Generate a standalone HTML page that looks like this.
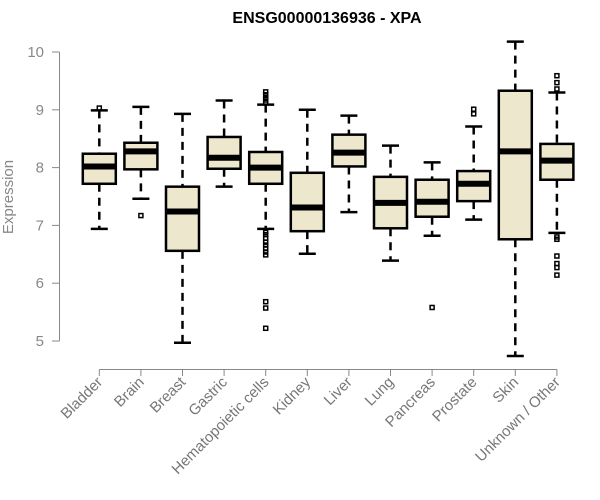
<!DOCTYPE html>
<html><head><meta charset="utf-8"><style>
body{margin:0;background:#fff;}
svg{display:block;font-family:"Liberation Sans",Arial,sans-serif;}
</style></head><body>
<svg id="chart" width="600" height="500" viewBox="0 0 600 500">
<text x="327" y="23" text-anchor="middle" font-weight="bold" font-size="16">ENSG00000136936 - XPA</text>
<text transform="translate(13,197) rotate(-90)" text-anchor="middle" font-size="15" fill="#888">Expression</text>
<g id="axes"></g><g id="boxes"></g>
</svg>
<script>
const categories=["Bladder","Brain","Breast","Gastric","Hematopoietic cells","Kidney","Liver","Lung","Pancreas","Prostate","Skin","Unknown / Other"];
const whiskerLow=[6.94,7.46,4.97,7.67,6.94,6.51,7.23,6.39,6.82,7.10,4.74,6.87];
const q1=[7.72,7.97,6.56,7.98,7.72,6.90,8.02,6.95,7.15,7.42,6.76,7.79];
const medians=[8.02,8.28,7.24,8.17,8.00,7.31,8.26,7.39,7.41,7.72,8.28,8.12];
const q3=[8.24,8.43,7.67,8.53,8.27,7.91,8.57,7.84,7.79,7.94,9.33,8.41];
const whiskerHigh=[8.99,9.05,8.93,9.16,9.09,9.00,8.90,8.38,8.09,8.71,10.18,9.30];
const outliers=[[9.03],[7.17],[],[],[9.31,9.26,9.21,9.17,9.13,6.88,6.84,6.78,6.71,6.66,6.60,6.54,6.49,5.68,5.57,5.22],[],[],[],[5.58],[9.01,8.93],[],[9.59,9.47,9.36,6.80,6.76,6.47,6.34,6.27,6.14]];
const yTicks=[5,6,7,8,9,10];
const NS="http://www.w3.org/2000/svg";
function y(v){return 341-(v-5)*57.8;}
function x(i){return 99.3+i*41.6;}
function mk(parent,tag,attrs){const e=document.createElementNS(NS,tag);for(const k in attrs)e.setAttribute(k,attrs[k]);parent.appendChild(e);return e;}
const axes=document.getElementById('axes'),boxes=document.getElementById('boxes');
let el=mk(axes,'line',{x1:59.5,x2:59.5,y1:y(10),y2:y(5),stroke:'#888'});


yTicks.forEach(t=>{
  let l=mk(axes,'line',{x1:52,x2:59.5,y1:y(t),y2:y(t),stroke:'#888'});
  
  
  let tx=mk(axes,'text',{x:44,y:y(t)+5,'text-anchor':'end','font-size':15,fill:'#888'});
  tx.textContent=t;
  
  
});
el=mk(axes,'line',{x1:x(0),x2:x(11),y1:369.5,y2:369.5,stroke:'#888'});


categories.forEach((c,i)=>{
  const cx=x(i);
  let l=mk(axes,'line',{x1:cx,x2:cx,y1:369.5,y2:376,stroke:'#888'});
  
  
  let tx=mk(axes,'text',{transform:`translate(${cx+4},${383}) rotate(-45)`,'text-anchor':'end','font-size':15,fill:'#777'});
  tx.textContent=c;
  
  
  const g=mk(boxes,'g',{});
  
  
  mk(g,'line',{x1:cx,x2:cx,y1:y(whiskerHigh[i]),y2:y(q3[i]),stroke:'#000','stroke-width':2.5,'stroke-dasharray':'8,6'});
  mk(g,'line',{x1:cx,x2:cx,y1:y(q1[i]),y2:y(whiskerLow[i]),stroke:'#000','stroke-width':2.5,'stroke-dasharray':'8,6'});
  mk(g,'line',{x1:cx-8.5,x2:cx+8.5,y1:y(whiskerHigh[i]),y2:y(whiskerHigh[i]),stroke:'#000','stroke-width':2.5});
  mk(g,'line',{x1:cx-8.5,x2:cx+8.5,y1:y(whiskerLow[i]),y2:y(whiskerLow[i]),stroke:'#000','stroke-width':2.5});
  mk(g,'rect',{x:cx-16.5,y:y(q3[i]),width:33,height:y(q1[i])-y(q3[i]),fill:'#EDE8CD',stroke:'#000','stroke-width':2.5});
  mk(g,'line',{x1:cx-16.5,x2:cx+16.5,y1:y(medians[i]),y2:y(medians[i]),stroke:'#000','stroke-width':6});
  outliers[i].forEach(v=>{
    let o=mk(g,'rect',{x:cx-2,y:y(v)-2,width:4,height:4,fill:'none',stroke:'#000','stroke-width':1.5});
    
    
  });
});
</script>
</body></html>
